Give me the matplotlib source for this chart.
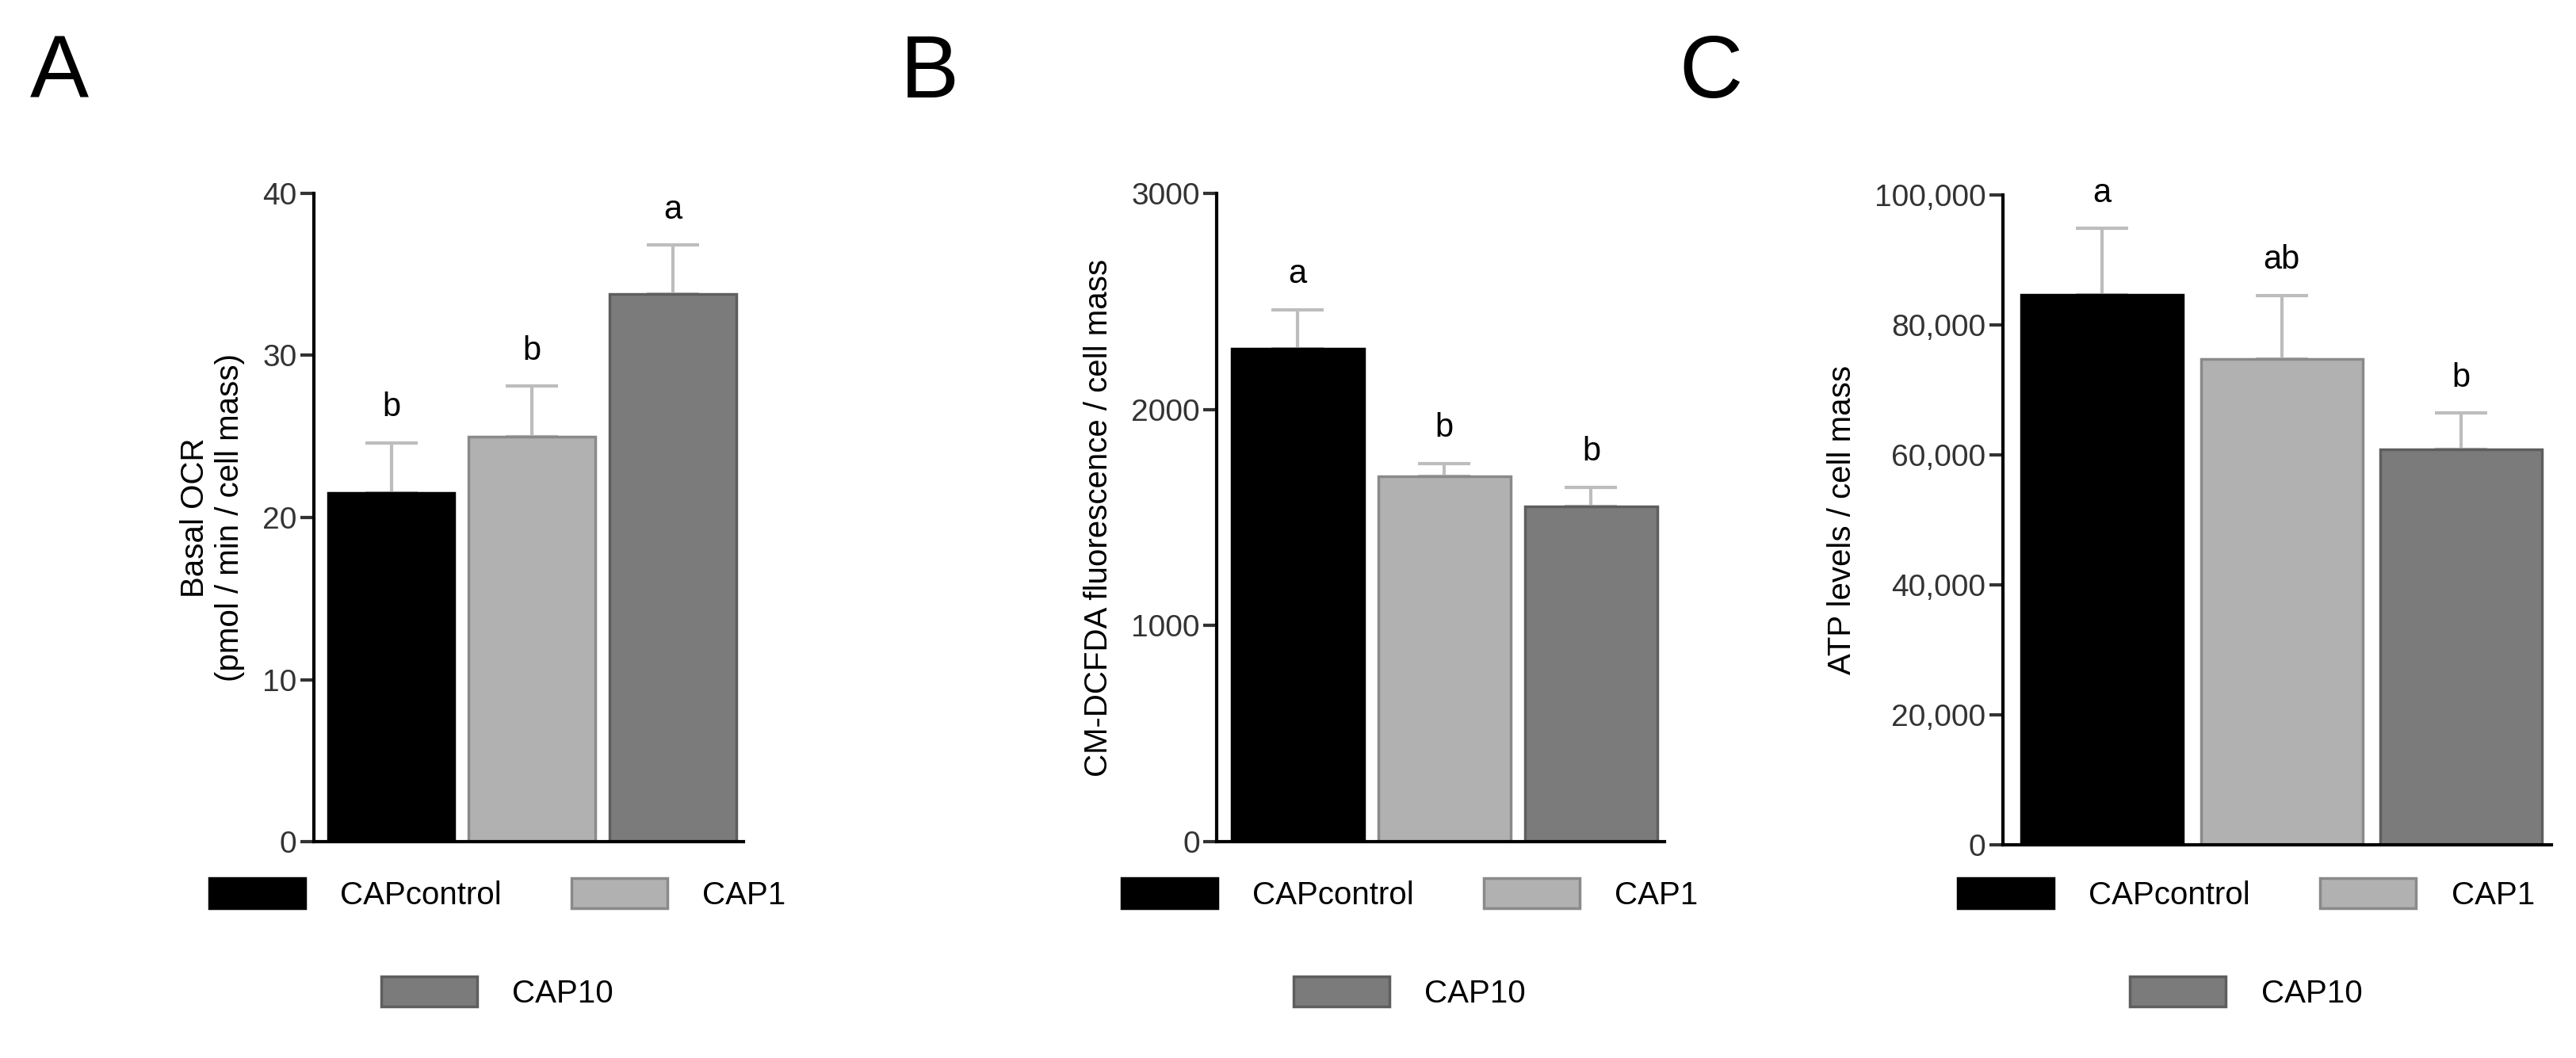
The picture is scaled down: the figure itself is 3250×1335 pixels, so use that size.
import matplotlib
matplotlib.use("Agg")
import matplotlib.pyplot as plt
from matplotlib.patches import Patch
from matplotlib.ticker import FuncFormatter

plt.rcParams['font.family'] = ['Liberation Sans', 'DejaVu Sans']

groups = ["CAPcontrol", "CAP1", "CAP10"]
colors = ["#000000", "#b1b1b1", "#7b7b7b"]
edges = ["#000000", "#8a8a8a", "#5e5e5e"]

ocr_mean = [21.5, 25.0, 33.8]
ocr_sem = [3.1, 3.1, 3.0]
ocr_sig = ["b", "b", "a"]

dcf_mean = [2280, 1690, 1550]
dcf_sem = [180, 60, 90]
dcf_sig = ["a", "b", "b"]

atp_mean = [84600, 74700, 60900]
atp_sem = [10200, 9800, 5500]
atp_sig = ["a", "ab", "b"]

W, H = 1560, 641
fig = plt.figure(figsize=(32.5, 13.35), dpi=100)

def frac(x0, x1, ytop, ybot):
    return [x0 / W, 1 - ybot / H, (x1 - x0) / W, (ybot - ytop) / H]

panels = [
    (frac(190, 450, 117, 510), ocr_mean, ocr_sem, ocr_sig, 40, [0, 10, 20, 30, 40],
     "Basal OCR\n(pmol / min / cell mass)", False),
    (frac(737, 1008, 117, 510), dcf_mean, dcf_sem, dcf_sig, 3000, [0, 1000, 2000, 3000],
     "CM-DCFDA fluorescence / cell mass", False),
    (frac(1213, 1545, 118, 512), atp_mean, atp_sem, atp_sig, 100000, [0, 20000, 40000, 60000, 80000, 100000],
     "ATP levels / cell mass", True),
]

handles = [Patch(facecolor=c, edgecolor=e, linewidth=2.5) for c, e in zip(colors, edges)]

for rect, mean, sem, sig, ymax, ticks, ylabel, comma in panels:
    ax = fig.add_axes(rect)
    x = list(range(len(groups)))
    ax.bar(x, mean, width=0.9, color=colors, edgecolor=edges, linewidth=2.5, zorder=2)
    ax.errorbar(x, mean, yerr=[[0] * 3, sem], fmt="none", ecolor="#bdbdbd",
                elinewidth=3, capsize=24, capthick=3, zorder=1)
    for xi, m, s, t in zip(x, mean, sem, sig):
        ax.text(xi, m + s + ymax * 0.03, t, ha="center", va="bottom", fontsize=30)
    ax.set_xlim(-0.55, 2.5)
    ax.set_ylim(0, ymax)
    ax.set_yticks(ticks)
    if comma:
        ax.yaxis.set_major_formatter(FuncFormatter(lambda v, p: f"{int(v):,}"))
    ax.set_xticks([])
    for s in ["top", "right"]:
        ax.spines[s].set_visible(False)
    ax.spines["left"].set_linewidth(3)
    ax.spines["bottom"].set_linewidth(3)
    ax.tick_params(axis="y", labelsize=28, width=3, length=12, colors="#333333", labelcolor="#333333")
    ax.set_ylabel(ylabel, fontsize=29, labelpad=16)
    cx = rect[0] + rect[2] / 2 - 0.012
    fig.legend(handles[:2], groups[:2], loc="center", bbox_to_anchor=(cx, 0.155), ncol=2,
               frameon=False, fontsize=29, handlelength=3.0, handleheight=1.1,
               columnspacing=2.2, handletextpad=1.1)
    fig.legend(handles[2:], groups[2:], loc="center", bbox_to_anchor=(cx, 0.062), ncol=1,
               frameon=False, fontsize=29, handlelength=3.0, handleheight=1.1, handletextpad=1.1)

for letter, xp in [("A", 18), ("B", 545), ("C", 1017)]:
    fig.text(xp / W, 1 - 45 / H, letter, fontsize=80, va="center", ha="left")

fig.savefig("out.png", dpi=100)
